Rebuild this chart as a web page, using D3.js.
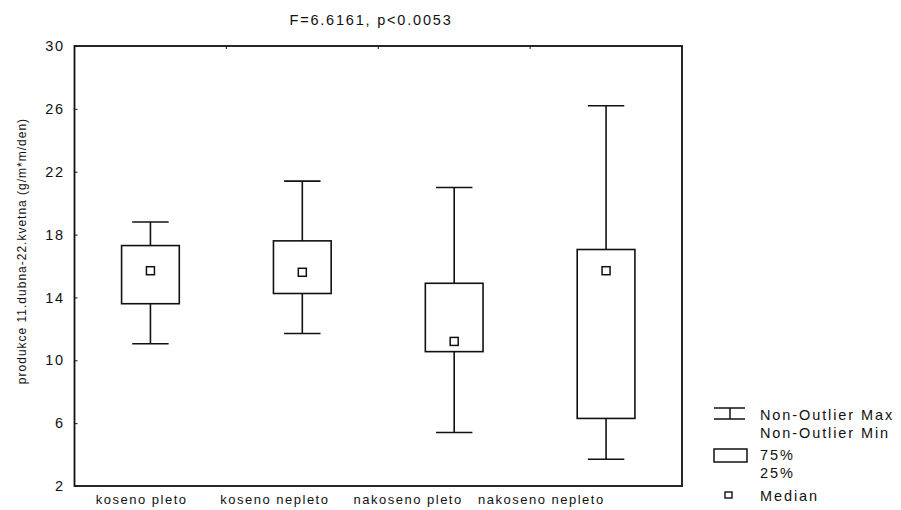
<!DOCTYPE html>
<html>
<head>
<meta charset="utf-8">
<script src="https://cdn.jsdelivr.net/npm/d3@7"></script>
<style>
  body { margin: 0; background: #fff; }
  text { font-family: "Liberation Sans", Arial, sans-serif; fill: #111; }
</style>
</head>
<body>
<svg id="chart" width="901" height="510"></svg>
<script>
const categories = ["koseno pleto", "koseno nepleto", "nakoseno pleto", "nakoseno nepleto"];
const whiskerMax = [18.8, 21.4, 21.0, 26.2];
const q3 = [17.3, 17.6, 14.9, 17.05];
const median = [15.7, 15.6, 11.2, 15.7];
const q1 = [13.6, 14.25, 10.55, 6.3];
const whiskerMin = [11.05, 11.7, 5.4, 3.7];
const yTicks = [2, 6, 10, 14, 18, 22, 26, 30];
const title = "F=6.6161, p<0.0053";
const yLabel = "produkce 11.dubna-22.kvetna  (g/m*m/den)";
const legendItems = ["Non-Outlier Max", "Non-Outlier Min", "75%", "25%", "Median"];

const svg = d3.select("#chart");
const L = 74.5, R = 682, T = 46, B = 486;

const x = d3.scaleBand().domain(categories).range([L, R]);
const xLab = d3.scaleBand().domain(categories).range([75, 608]);
const y = d3.scaleLinear().domain([2, 30]).range([B, T]);

const data = categories.map((c, i) => ({
  c, max: whiskerMax[i], q3: q3[i], med: median[i], q1: q1[i], min: whiskerMin[i]
}));

// frame
svg.append("rect").attr("x", L).attr("y", T).attr("width", R - L).attr("height", B - T)
  .attr("fill", "none").attr("stroke", "#111").attr("stroke-width", 1.8);

// y axis ticks (inside)
const yAxis = d3.axisLeft(y).tickValues(yTicks).tickSize(-3).tickPadding(10).tickFormat(d3.format("d"));
const gy = svg.append("g").attr("transform", `translate(${L},0)`).call(yAxis);
gy.select(".domain").remove();
gy.selectAll("line").attr("stroke", "#111");
gy.selectAll("text").attr("font-size", 14.5).attr("letter-spacing", 1.5)
  .attr("font-family", "Liberation Sans, Arial, sans-serif").attr("fill", "#111");

// x category labels
svg.append("g").selectAll("text").data(categories).join("text")
  .attr("x", d => xLab(d) + xLab.bandwidth() / 2)
  .attr("y", 504)
  .attr("text-anchor", "middle")
  .attr("font-size", 13)
  .attr("letter-spacing", 1.5)
  .text(d => d);

// top band boundary ticks
svg.append("g").selectAll("line").data(categories.slice(1)).join("line")
  .attr("x1", d => x(d)).attr("x2", d => x(d))
  .attr("y1", T).attr("y2", T + 3).attr("stroke", "#111");

// boxes
const bw = x.bandwidth();
const boxW = bw * 0.38, capW = bw * 0.24, medS = 8;
const g = svg.append("g").selectAll("g").data(data).join("g");
g.append("line")
  .attr("x1", d => x(d.c) + bw / 2).attr("x2", d => x(d.c) + bw / 2)
  .attr("y1", d => y(d.max)).attr("y2", d => y(d.min))
  .attr("stroke", "#111").attr("stroke-width", 1.6);
g.append("line")
  .attr("x1", d => x(d.c) + bw / 2 - capW / 2).attr("x2", d => x(d.c) + bw / 2 + capW / 2)
  .attr("y1", d => y(d.max)).attr("y2", d => y(d.max))
  .attr("stroke", "#111").attr("stroke-width", 1.6);
g.append("line")
  .attr("x1", d => x(d.c) + bw / 2 - capW / 2).attr("x2", d => x(d.c) + bw / 2 + capW / 2)
  .attr("y1", d => y(d.min)).attr("y2", d => y(d.min))
  .attr("stroke", "#111").attr("stroke-width", 1.6);
g.append("rect")
  .attr("x", d => x(d.c) + bw / 2 - boxW / 2).attr("width", boxW)
  .attr("y", d => y(d.q3)).attr("height", d => y(d.q1) - y(d.q3))
  .attr("fill", "#fff").attr("stroke", "#111").attr("stroke-width", 1.6);
g.append("rect")
  .attr("x", d => x(d.c) + bw / 2 - medS / 2).attr("width", medS)
  .attr("y", d => y(d.med) - medS / 2).attr("height", medS)
  .attr("fill", "#fff").attr("stroke", "#111").attr("stroke-width", 1.5);

// title
svg.append("text").attr("x", 371).attr("y", 25).attr("text-anchor", "middle")
  .attr("font-size", 14.5).attr("letter-spacing", 1.8).text(title);

// y label
svg.append("text").attr("transform", "translate(26,251) rotate(-90)")
  .attr("text-anchor", "middle").attr("font-size", 12).attr("letter-spacing", 1.0)
  .text(yLabel);

// legend
const lg = svg.append("g");
const lx = 760;
const ly = [415, 433, 455, 473, 496];
lg.selectAll("text").data(legendItems).join("text")
  .attr("x", lx).attr("y", (d, i) => ly[i] + 5)
  .attr("font-size", 14.5).attr("letter-spacing", 1.9).text(d => d);
// whisker icon
lg.append("line").attr("x1", 714).attr("x2", 745).attr("y1", 408).attr("y2", 408).attr("stroke", "#111").attr("stroke-width", 1.5);
lg.append("line").attr("x1", 714).attr("x2", 745).attr("y1", 419).attr("y2", 419).attr("stroke", "#111").attr("stroke-width", 1.5);
lg.append("line").attr("x1", 730).attr("x2", 730).attr("y1", 408).attr("y2", 419).attr("stroke", "#111").attr("stroke-width", 1.5);
// box icon
lg.append("rect").attr("x", 714).attr("y", 449).attr("width", 33).attr("height", 13)
  .attr("fill", "#fff").attr("stroke", "#111").attr("stroke-width", 1.5);
// median icon
lg.append("rect").attr("x", 725).attr("y", 492).attr("width", 7).attr("height", 6)
  .attr("fill", "#fff").attr("stroke", "#111").attr("stroke-width", 1.4);
</script>
</body>
</html>
